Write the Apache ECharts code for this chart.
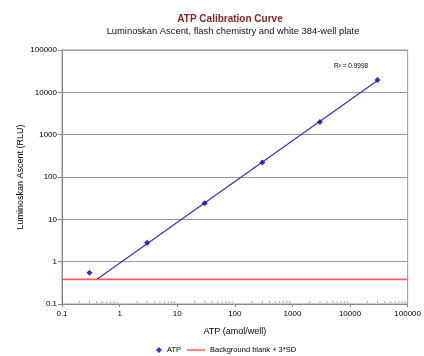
<!DOCTYPE html>
<html><head><meta charset="utf-8">
<script src="https://cdn.jsdelivr.net/npm/echarts@6/dist/echarts.min.js"></script>
<style>html,body{margin:0;padding:0;background:#fff}#c{width:424px;height:356px}</style>
</head><body><div id="c"></div>
<script>
// Data
const atpX = [0.3, 3, 30, 300, 3000, 30000];
const atpY = [0.55, 2.8, 24, 220, 2000, 19500];
const trendX = [0.41, 30000];
const trendY = [0.39, 19000];
const blankX = [0.1, 100000];
const blankY = [0.38, 0.38];
const minorTickX = [0.2,0.3,0.4,0.5,0.6,0.7,0.8,0.9,2,3,4,5,6,7,8,9,20,30,40,50,60,70,80,90,200,300,400,500,600,700,800,900,2000,3000,4000,5000,6000,7000,8000,9000,20000,30000,40000,50000,60000,70000,80000,90000];
const titleText = 'ATP Calibration Curve';
const subtitleText = 'Luminoskan Ascent, flash chemistry and white 384-well plate';
const r2Text = 'R\u00B2 = 0.9998';

const F = '"Liberation Sans", Arial, sans-serif';
const zip = (xs, ys) => xs.map((x, i) => [x, ys[i]]);
const fmt = v => (v < 1 ? v.toFixed(1) : String(Math.round(v)));

const chart = echarts.init(document.getElementById('c'), null, {renderer: 'canvas'});
chart.setOption({
  animation: false,
  backgroundColor: '#fff',
  grid: {left: 62, right: 13, top: 50, bottom: 52, show: true, borderColor: '#999', borderWidth: 1},
  graphic: [
    {type: 'text', x: 230, y: 14, style: {text: titleText, font: 'bold 10px ' + F, fill: '#8b2323', textAlign: 'center'}},
    {type: 'text', x: 233, y: 27, style: {text: subtitleText, font: '9.4px ' + F, fill: '#111', textAlign: 'center'}},
    {type: 'text', x: 334, y: 63, style: {text: r2Text, font: '6.5px ' + F, fill: '#000'}}
  ],
  xAxis: {
    type: 'log', logBase: 10, min: 0.1, max: 100000,
    name: 'ATP (amol/well)', nameLocation: 'middle', nameGap: 23, nameMoveOverlap: false,
    nameTextStyle: {fontFamily: F, fontSize: 9, color: '#000'},
    axisLine: {lineStyle: {color: '#888', width: 1}},
    axisTick: {show: true, length: 3, lineStyle: {color: '#888'}},
    axisLabel: {fontFamily: F, fontSize: 8, color: '#000', margin: 6, formatter: fmt},
    splitLine: {show: false}
  },
  yAxis: {
    type: 'log', logBase: 10, min: 0.1, max: 100000,
    name: 'Luminoskan Ascent (RLU)', nameLocation: 'middle', nameGap: 37, nameRotate: 90, nameMoveOverlap: false,
    nameTextStyle: {fontFamily: F, fontSize: 9, color: '#000'},
    axisLine: {lineStyle: {color: '#888', width: 1}},
    axisTick: {show: true, length: 4, lineStyle: {color: '#888'}},
    axisLabel: {fontFamily: F, fontSize: 8, color: '#000', margin: 5, formatter: fmt},
    splitLine: {show: true, lineStyle: {color: '#999', width: 1}}
  },
  legend: {
    bottom: 2, left: 144, padding: 0, itemGap: 6, itemWidth: 18, itemHeight: 8,
    textStyle: {fontFamily: F, fontSize: 7.5, color: '#000'},
    data: [
      {name: 'ATP', icon: 'path://M15,1L18,4L15,7L12,4Z M0,0L0.01,0 M18,8L18.01,8', itemStyle: {color: '#0000cc'}},
      {name: 'Background blank + 3*SD', icon: 'path://M0,3.3L18,3.3L18,4.7L0,4.7Z M0,0L0.01,0 M18,8L18.01,8', itemStyle: {color: '#ff5555'}}
    ]
  },
  series: [
    {
      name: 'minor', type: 'scatter', silent: true, symbol: 'rect', symbolSize: [1, 2],
      symbolOffset: [0, -2], itemStyle: {color: '#999'},
      data: minorTickX.map(x => [x, 0.1]), z: 1
    },
    {
      name: 'Background blank + 3*SD', type: 'line', symbol: 'none',
      lineStyle: {color: '#ff5a5a', width: 1.8}, itemStyle: {color: '#ff5a5a'},
      data: zip(blankX, blankY), z: 2
    },
    {
      name: 'trend', type: 'line', symbol: 'none',
      lineStyle: {color: '#3333cc', width: 1.2},
      data: zip(trendX, trendY), z: 3
    },
    {
      name: 'ATP', type: 'scatter', symbol: 'diamond', symbolSize: 6,
      itemStyle: {color: '#0000cc'},
      data: zip(atpX, atpY), z: 4
    }
  ]
});
</script></body></html>
